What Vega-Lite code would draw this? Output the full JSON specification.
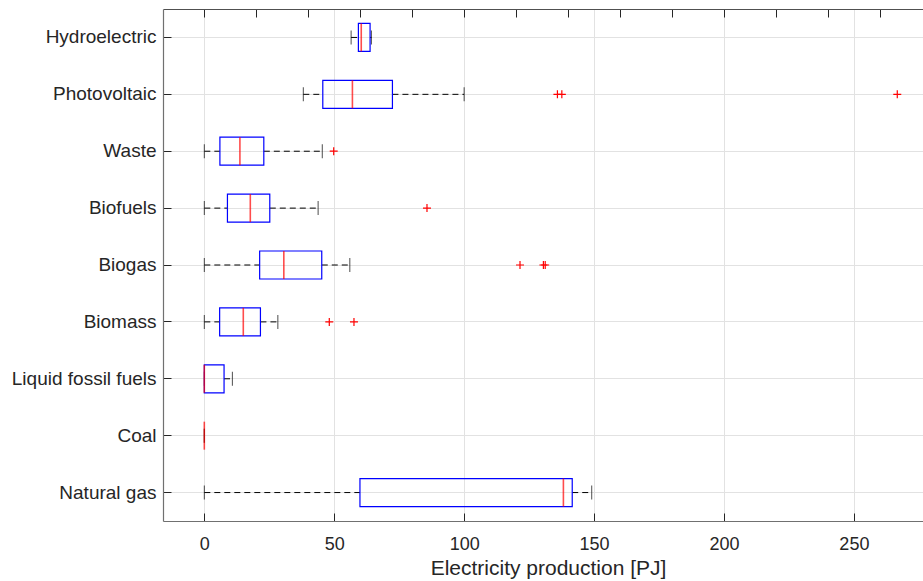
{
  "$schema": "https://vega.github.io/schema/vega-lite/v6.json",
  "width": 760,
  "height": 512,
  "autosize": {"type": "none"},
  "padding": {"left": 163, "top": 9, "right": 0, "bottom": 60},
  "background": "white",
  "config": {
    "view": {"stroke": null},
    "font": "Liberation Sans",
    "axis": {"labelFont": "Liberation Sans", "titleFont": "Liberation Sans", "labelColor": "#262626", "titleColor": "#262626", "titleFontWeight": "normal"}
  },
  "datasets": {
    "boxes": [
      {"cat": "Hydroelectric", "lo": 56.5, "q1": 59.3, "med": 60.4, "q3": 63.8, "hi": 64.3},
      {"cat": "Photovoltaic", "lo": 38.1, "q1": 45.6, "med": 57.0, "q3": 72.4, "hi": 100.0},
      {"cat": "Waste", "lo": 0, "q1": 6.0, "med": 13.7, "q3": 22.9, "hi": 45.4},
      {"cat": "Biofuels", "lo": 0, "q1": 8.9, "med": 17.7, "q3": 25.2, "hi": 43.8},
      {"cat": "Biogas", "lo": 0, "q1": 21.3, "med": 30.6, "q3": 45.2, "hi": 56.0},
      {"cat": "Biomass", "lo": 0, "q1": 5.9, "med": 15.0, "q3": 21.6, "hi": 28.3},
      {"cat": "Liquid fossil fuels", "lo": 0, "q1": 0, "med": 0, "q3": 7.6, "hi": 10.8},
      {"cat": "Coal", "lo": 0, "q1": 0, "med": 0, "q3": 0, "hi": 0},
      {"cat": "Natural gas", "lo": 0, "q1": 59.9, "med": 138.2, "q3": 141.6, "hi": 149.1}
    ],
    "outliers": [
      {"cat": "Photovoltaic", "value": 135.9},
      {"cat": "Photovoltaic", "value": 137.6},
      {"cat": "Photovoltaic", "value": 266.7},
      {"cat": "Waste", "value": 49.8},
      {"cat": "Biofuels", "value": 85.7},
      {"cat": "Biogas", "value": 121.5},
      {"cat": "Biogas", "value": 130.5},
      {"cat": "Biogas", "value": 131.2},
      {"cat": "Biomass", "value": 48.1},
      {"cat": "Biomass", "value": 57.6}
    ]
  },
  "resolve": {"axis": {"x": "independent", "y": "independent"}},
  "layer": [
    {
      "data": {"name": "boxes"},
      "mark": {"type": "rule", "color": "black", "strokeDash": [6, 4], "strokeWidth": 1},
      "encoding": {
        "x": {"field": "lo", "type": "quantitative", "scale": {"domain": [-15.9, 276.6], "nice": false, "zero": false},
          "axis": {"orient": "bottom", "values": [0, 50, 100, 150, 200, 250], "grid": true, "gridColor": "#e2e2e2", "gridWidth": 1,
            "domainColor": "#707070", "domainWidth": 1.2, "tickColor": "#262626", "tickSize": -8, "labelPadding": 22, "labelFontSize": 18,
            "title": "Electricity production [PJ]", "titleFontSize": 21, "titlePadding": 4, "titleX": 385}},
        "x2": {"field": "q1"},
        "y": {"field": "cat", "type": "nominal", "scale": {"domain": ["Hydroelectric", "Photovoltaic", "Waste", "Biofuels", "Biogas", "Biomass", "Liquid fossil fuels", "Coal", "Natural gas"], "paddingInner": 0, "paddingOuter": 0},
          "axis": {"orient": "left", "title": null, "grid": true, "gridColor": "#e2e2e2", "gridWidth": 1, "domainColor": "#707070", "domainWidth": 1.2,
            "tickColor": "#262626", "tickSize": -8, "labelPadding": 15, "labelFontSize": 19}}
      }
    },
    {
      "data": {"name": "boxes"},
      "mark": {"type": "rule", "color": "black", "strokeDash": [6, 4], "strokeWidth": 1},
      "encoding": {
        "x": {"field": "q3", "type": "quantitative", "axis": {"orient": "top", "labels": false, "grid": false, "title": null, "domainColor": "#505050", "domainWidth": 1.2, "tickColor": "#262626", "tickSize": -8}},
        "x2": {"field": "hi"},
        "y": {"field": "cat", "type": "nominal", "axis": null}
      }
    },
    {
      "data": {"name": "boxes"},
      "mark": {"type": "tick", "color": "black", "size": 14, "thickness": 1},
      "encoding": {
        "x": {"field": "lo", "type": "quantitative", "axis": null},
        "y": {"field": "cat", "type": "nominal", "axis": null}
      }
    },
    {
      "data": {"name": "boxes"},
      "mark": {"type": "tick", "color": "black", "size": 14, "thickness": 1},
      "encoding": {
        "x": {"field": "hi", "type": "quantitative", "axis": null},
        "y": {"field": "cat", "type": "nominal", "axis": null}
      }
    },
    {
      "data": {"name": "boxes"},
      "transform": [{"filter": "datum.q3 > datum.q1"}],
      "mark": {"type": "bar", "size": 28, "fill": "white", "fillOpacity": 0, "stroke": "#0000ff", "strokeWidth": 1.2},
      "encoding": {
        "x": {"field": "q1", "type": "quantitative", "axis": null},
        "x2": {"field": "q3"},
        "y": {"field": "cat", "type": "nominal", "axis": null}
      }
    },
    {
      "data": {"name": "boxes"},
      "mark": {"type": "tick", "color": "#ff0000", "size": 28, "thickness": 1.6},
      "encoding": {
        "x": {"field": "med", "type": "quantitative", "axis": null},
        "y": {"field": "cat", "type": "nominal", "axis": null}
      }
    },
    {
      "data": {"name": "outliers"},
      "mark": {"type": "point", "shape": "M-1,0H1M0,-1V1", "filled": false, "stroke": "#ff0000", "strokeWidth": 1.2, "size": 64, "opacity": 1},
      "encoding": {
        "x": {"field": "value", "type": "quantitative", "axis": null},
        "y": {"field": "cat", "type": "nominal", "axis": null}
      }
    }
  ]
}
